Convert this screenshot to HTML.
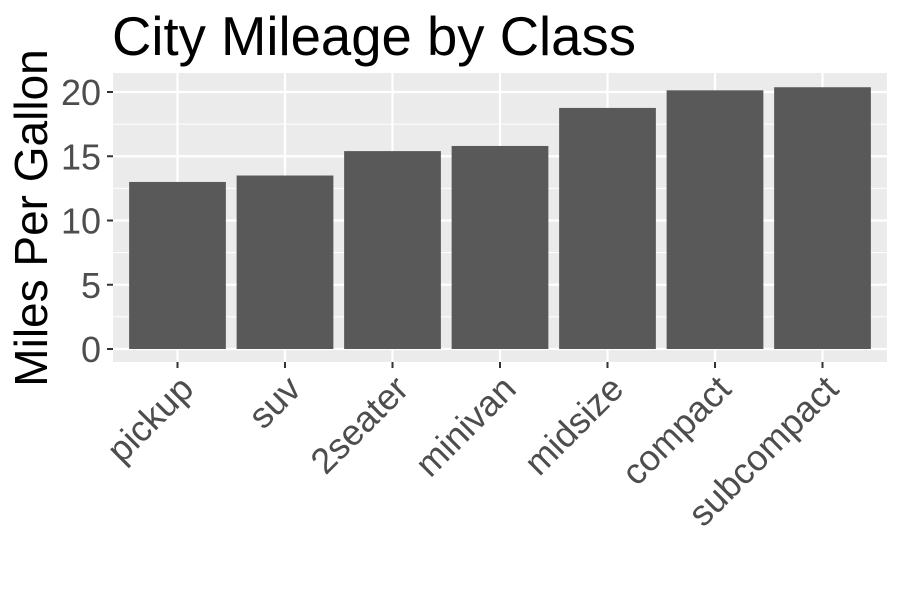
<!DOCTYPE html>
<html><head><meta charset="utf-8"><style>body{margin:0;background:#fff}svg{display:block}</style></head>
<body>
<svg id="chart" width="900" height="600" font-family="Liberation Sans, sans-serif">
<rect width="900" height="600" fill="#fff"/>
<text x="112" y="55" font-size="54.5" fill="#000">City Mileage by Class</text>
<text transform="translate(47,218) rotate(-90)" text-anchor="middle" font-size="46" fill="#000">Miles Per Gallon</text>
<rect x="113" y="73" width="774" height="289" fill="#ebebeb"/>
<g id="grid"></g><g id="bars"></g><g id="axes"></g>
</svg>
<script>
const categories=["pickup","suv","2seater","minivan","midsize","compact","subcompact"];
const values=[13.0,13.5,15.4,15.8,18.76,20.13,20.37];
const yTicks=[0,5,10,15,20];
const ns="http://www.w3.org/2000/svg";
const x0=113,pw=774,step=pw/7.2;
function xPos(i){return x0+step*(0.6+i);}
function yPos(v){return 349-v*12.85;}
function mk(t,a,p){const e=document.createElementNS(ns,t);for(const k in a)e.setAttribute(k,a[k]);p.appendChild(e);return e;}
const grid=document.getElementById('grid'),bars=document.getElementById('bars'),axes=document.getElementById('axes');
for(let k=0;k<yTicks.length-1;k++){const v=(yTicks[k]+yTicks[k+1])/2;
const l=mk('line',{x1:113,x2:887,y1:yPos(v),y2:yPos(v),stroke:'#fff','stroke-width':1},grid);

}
yTicks.forEach(v=>{const l=mk('line',{x1:113,x2:887,y1:yPos(v),y2:yPos(v),stroke:'#fff','stroke-width':2.2},grid);


const t=mk('line',{x1:107,x2:113,y1:yPos(v),y2:yPos(v),stroke:'#333','stroke-width':2},axes);


const tx=mk('text',{x:101,y:yPos(v)+13,'text-anchor':'end','font-size':36,fill:'#4d4d4d'},axes);tx.textContent=v;

});
categories.forEach((c,i)=>{const x=xPos(i);
const g=mk('line',{x1:x,x2:x,y1:73,y2:362,stroke:'#fff','stroke-width':2.2},grid);


const b=mk('rect',{x:x-step*0.45,y:yPos(values[i]),width:step*0.9,height:yPos(0)-yPos(values[i]),fill:'#595959'},bars);


const t=mk('line',{x1:x,x2:x,y1:362,y2:368,stroke:'#333','stroke-width':2},axes);


const tx=mk('text',{transform:`translate(${x+18},${391}) rotate(-45)`,'text-anchor':'end','font-size':36,fill:'#4d4d4d'},axes);tx.textContent=c;

});
</script>
</body></html>
